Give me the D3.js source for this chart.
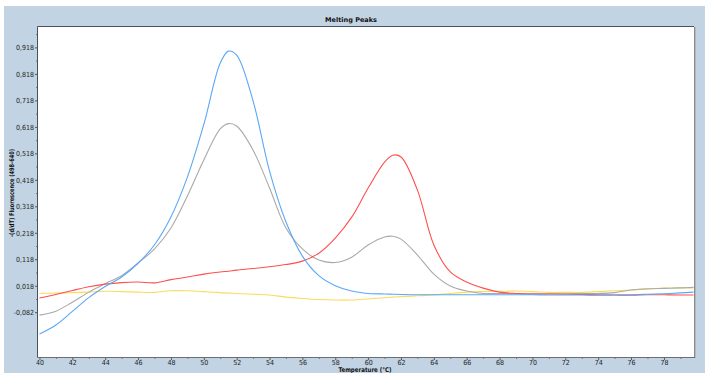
<!DOCTYPE html>
<html>
<head>
<meta charset="utf-8">
<script src="https://cdn.jsdelivr.net/npm/d3@7/dist/d3.min.js"></script>
<style>
  html, body { margin: 0; padding: 0; background: #fff; }
  svg { display: block; }
  text { font-family: "Liberation Sans Narrow", "DejaVu Sans Condensed", Arial, sans-serif; }
</style>
</head>
<body>
<svg id="chart" width="705" height="373"></svg>
<script>
const d3 = window.d3

// temperatures (°C) shared by all series
const temps = [40, 41, 42, 43, 44, 45, 46, 47, 48, 49, 50, 51, 51.5, 52, 53, 54, 55, 56, 57, 58, 59, 60,
  61, 61.5, 62, 63, 64, 65, 66, 67, 68, 69, 70, 71, 72, 73, 74, 75, 76, 77, 78, 79, 79.8]

const blue = [-0.164, -0.130, -0.079, -0.027, 0.015, 0.051, 0.103, 0.173, 0.278, 0.428, 0.627, 0.859, 0.904, 0.889,
  0.715, 0.451, 0.259, 0.130, 0.056, 0.018, -0.002, -0.011, -0.013, -0.014, -0.015, -0.016, -0.016, -0.016, -0.016,
  -0.016, -0.016, -0.016, -0.016, -0.017, -0.017, -0.017, -0.018, -0.017, -0.016, -0.014, -0.012, -0.009, -0.006]

const gray = [-0.093, -0.078, -0.044, -0.006, 0.026, 0.056, 0.104, 0.157, 0.236, 0.357, 0.493, 0.610, 0.630, 0.621,
  0.530, 0.387, 0.236, 0.157, 0.115, 0.106, 0.126, 0.172, 0.202, 0.205, 0.194, 0.134, 0.062, 0.017, -0.002,
  -0.011, -0.011, -0.012, -0.012, -0.012, -0.012, -0.011, -0.011, -0.008, 0.002, 0.006, 0.008, 0.010, 0.012]

const red = [-0.028, -0.015, 0.000, 0.014, 0.024, 0.030, 0.032, 0.029, 0.041, 0.051, 0.062, 0.070, 0.073, 0.077,
  0.083, 0.090, 0.098, 0.111, 0.141, 0.198, 0.277, 0.387, 0.485, 0.511, 0.504, 0.379, 0.172, 0.070, 0.032,
  0.009, -0.006, -0.011, -0.013, -0.013, -0.014, -0.015, -0.016, -0.017, -0.018, -0.016, -0.016, -0.017, -0.017]

const yellow = [-0.011, -0.010, -0.008, -0.006, -0.003, -0.004, -0.006, -0.007, -0.001, -0.001, -0.004, -0.008, -0.010,
  -0.011, -0.014, -0.017, -0.025, -0.030, -0.034, -0.036, -0.036, -0.032, -0.027, -0.025, -0.023, -0.020, -0.017,
  -0.011, -0.006, -0.004, -0.003, -0.002, -0.004, -0.007, -0.007, -0.007, -0.004, -0.001, 0.002, 0.007, 0.009, 0.010, 0.010]

const series = [
  {name: 'yellow', values: yellow, color: '#f9dc5c'},
  {name: 'gray', values: gray, color: '#a9a9a9'},
  {name: 'red', values: red, color: '#ff4f4f'},
  {name: 'blue', values: blue, color: '#5aa8f8'}
]

const yTicks = [-0.082, 0.018, 0.118, 0.218, 0.318, 0.418, 0.518, 0.618, 0.718, 0.818, 0.918]
const xTicks = d3.range(40, 80, 2)

const svg = d3.select('#chart')
const plot = {left: 38, top: 27, right: 694, bottom: 357}

// panel background
svg.append('rect')
  .attr('x', 4).attr('y', 6).attr('width', 701).attr('height', 367)
  .attr('fill', '#c2d4e4')

svg.append('text')
  .attr('x', 351).attr('y', 22)
  .attr('text-anchor', 'middle')
  .style('font-family', 'Verdana, "DejaVu Sans", sans-serif')
  .style('font-size', '6.5px').style('font-weight', 'bold')
  .attr('textLength', 52).attr('lengthAdjust', 'spacingAndGlyphs')
  .attr('fill', '#111')
  .text('Melting Peaks')

const x = d3.scaleLinear().domain([39.91, 79.83]).range([plot.left, plot.right])
const y = d3.scaleLinear().domain([-0.251, 0.995]).range([plot.bottom, plot.top])

svg.append('rect')
  .attr('x', plot.left).attr('y', plot.top)
  .attr('width', plot.right - plot.left).attr('height', plot.bottom - plot.top)
  .attr('fill', '#fff')

const loc = d3.formatLocale({decimal: ',', thousands: '.', grouping: [3], currency: ['', ''], minus: '-'})
const fmt = loc.format('.3f')

// y axis
const yAxis = d3.axisLeft(y).tickValues(yTicks).tickFormat(fmt).tickSize(3).tickPadding(1)
const gy = svg.append('g').attr('transform', `translate(${plot.left},0)`).call(yAxis)
gy.select('.domain').remove()
gy.selectAll('line').attr('stroke', '#555')
gy.selectAll('text').style('font-size', '7px').attr('fill', '#222')

const yMinor = d3.axisLeft(y).tickValues(yTicks.map(v => v + 0.05)).tickFormat('').tickSize(2)
const gym = svg.append('g').attr('transform', `translate(${plot.left},0)`).call(yMinor)
gym.select('.domain').remove()
gym.selectAll('line').attr('stroke', '#777')

// x axis
const xAxis = d3.axisBottom(x).tickValues(xTicks).tickFormat(d3.format('d')).tickSize(3).tickPadding(0)
const gx = svg.append('g').attr('transform', `translate(0,${plot.bottom})`).call(xAxis)
gx.select('.domain').remove()
gx.selectAll('line').attr('stroke', '#555')
gx.selectAll('text').style('font-size', '7px').attr('fill', '#222')

const xMinor = d3.axisBottom(x).tickValues(xTicks.map(v => v + 1)).tickFormat('').tickSize(2)
const gxm = svg.append('g').attr('transform', `translate(0,${plot.bottom})`).call(xMinor)
gxm.select('.domain').remove()
gxm.selectAll('line').attr('stroke', '#777')

svg.append('text')
  .attr('x', 365).attr('y', 372)
  .attr('text-anchor', 'middle')
  .style('font-size', '6.5px').style('font-weight', 'bold')
  .attr('textLength', 53).attr('lengthAdjust', 'spacingAndGlyphs')
  .attr('fill', '#111')
  .text('Temperature (°C)')

svg.append('text')
  .attr('transform', 'translate(14,193) rotate(-90)')
  .attr('text-anchor', 'middle')
  .style('font-size', '6.5px').style('font-weight', 'bold')
  .attr('textLength', 88).attr('lengthAdjust', 'spacingAndGlyphs')
  .attr('fill', '#111')
  .text('-(d/dT) Fluorescence (498-640)')

// curves
const line = d3.line()
  .x((d, i) => x(temps[i]))
  .y(d => y(d))
  .curve(d3.curveCatmullRom.alpha(0.5))

svg.append('defs').append('clipPath').attr('id', 'clip')
  .append('rect')
  .attr('x', plot.left).attr('y', plot.top)
  .attr('width', plot.right - plot.left).attr('height', plot.bottom - plot.top)

svg.append('g').attr('clip-path', 'url(#clip)')
  .selectAll('path').data(series).enter().append('path')
  .attr('d', d => line(d.values))
  .attr('fill', 'none')
  .attr('stroke', d => d.color)
  .attr('stroke-width', 1.1)

// frame
svg.append('line').attr('x1', plot.left - 0.5).attr('x2', plot.right).attr('y1', plot.top - 0.5).attr('y2', plot.top - 0.5)
  .attr('stroke', '#4a5262')
svg.append('line').attr('x1', plot.left - 0.5).attr('x2', plot.left - 0.5).attr('y1', plot.top - 0.5).attr('y2', plot.bottom + 0.5)
  .attr('stroke', '#4a5262')
svg.append('line').attr('x1', plot.right + 0.5).attr('x2', plot.right + 0.5).attr('y1', plot.top).attr('y2', plot.bottom + 1)
  .attr('stroke', '#8c8c8c')
svg.append('line').attr('x1', plot.right + 1.5).attr('x2', plot.right + 1.5).attr('y1', plot.top).attr('y2', plot.bottom + 1)
  .attr('stroke', '#b4b8bc')
svg.append('line').attr('x1', plot.left - 0.5).attr('x2', plot.right + 1).attr('y1', plot.bottom + 0.5).attr('y2', plot.bottom + 0.5)
  .attr('stroke', '#6a6e74')
</script>
</body>
</html>
